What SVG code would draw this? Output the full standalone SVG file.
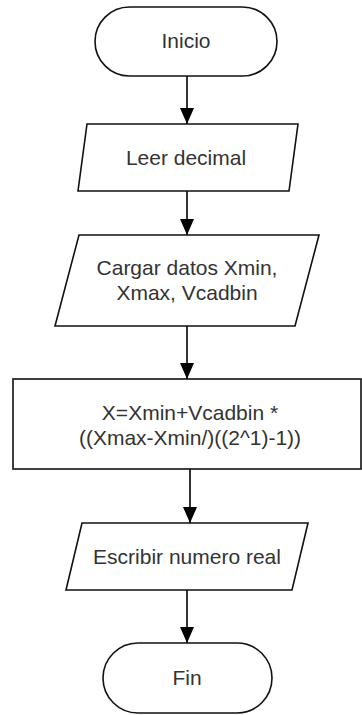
<svg xmlns="http://www.w3.org/2000/svg" width="362" height="715" viewBox="0 0 362 715">
<style>
.s{fill:#fff;stroke:#111;stroke-width:1.6}
.t{font-family:"Liberation Sans",Arial,sans-serif;font-size:21px;fill:#333;text-anchor:middle}
.c{stroke:#000;stroke-width:1.6;fill:none}
</style>
<defs>
<marker id="ah" markerUnits="userSpaceOnUse" markerWidth="16" markerHeight="16" viewBox="0 0 16 16" refX="16" refY="8" orient="auto">
<path d="M0,1 L16,8 L0,15 Z" fill="#000"/>
</marker>
</defs>
<rect width="362" height="715" fill="#fff"/>
<g id="connectors">
<line class="c" x1="187" y1="76" x2="187" y2="124" marker-end="url(#ah)"/>
<line class="c" x1="187" y1="191" x2="187" y2="235" marker-end="url(#ah)"/>
<line class="c" x1="187" y1="326" x2="187" y2="379" marker-end="url(#ah)"/>
<line class="c" x1="190" y1="469" x2="190" y2="523" marker-end="url(#ah)"/>
<line class="c" x1="187" y1="590" x2="187" y2="643" marker-end="url(#ah)"/>
</g>
<g id="inicio">
<rect class="s" x="95" y="7" width="182" height="69" rx="34.5" ry="34.5"/>
<text class="t" x="186" y="48">Inicio</text>
</g>
<g id="leer">
<polygon class="s" points="87,124 298,124 289,191 78,191"/>
<text class="t" x="186" y="165">Leer decimal</text>
</g>
<g id="cargar">
<polygon class="s" points="79,235 319,235 295,326 55,326"/>
<text class="t" x="187" y="275">Cargar datos Xmin,</text>
<text class="t" x="187" y="300">Xmax, Vcadbin</text>
</g>
<g id="proceso">
<rect class="s" x="13" y="379" width="348" height="90"/>
<text class="t" x="190" y="420">X=Xmin+Vcadbin *</text>
<text class="t" x="190" y="445">((Xmax-Xmin/)((2^1)-1))</text>
</g>
<g id="escribir">
<polygon class="s" points="82,523 308,523 292,590 66,590"/>
<text class="t" x="187" y="564">Escribir numero real</text>
</g>
<g id="fin">
<rect class="s" x="103" y="643" width="169" height="70" rx="35" ry="35"/>
<text class="t" x="187" y="685">Fin</text>
</g>
</svg>
